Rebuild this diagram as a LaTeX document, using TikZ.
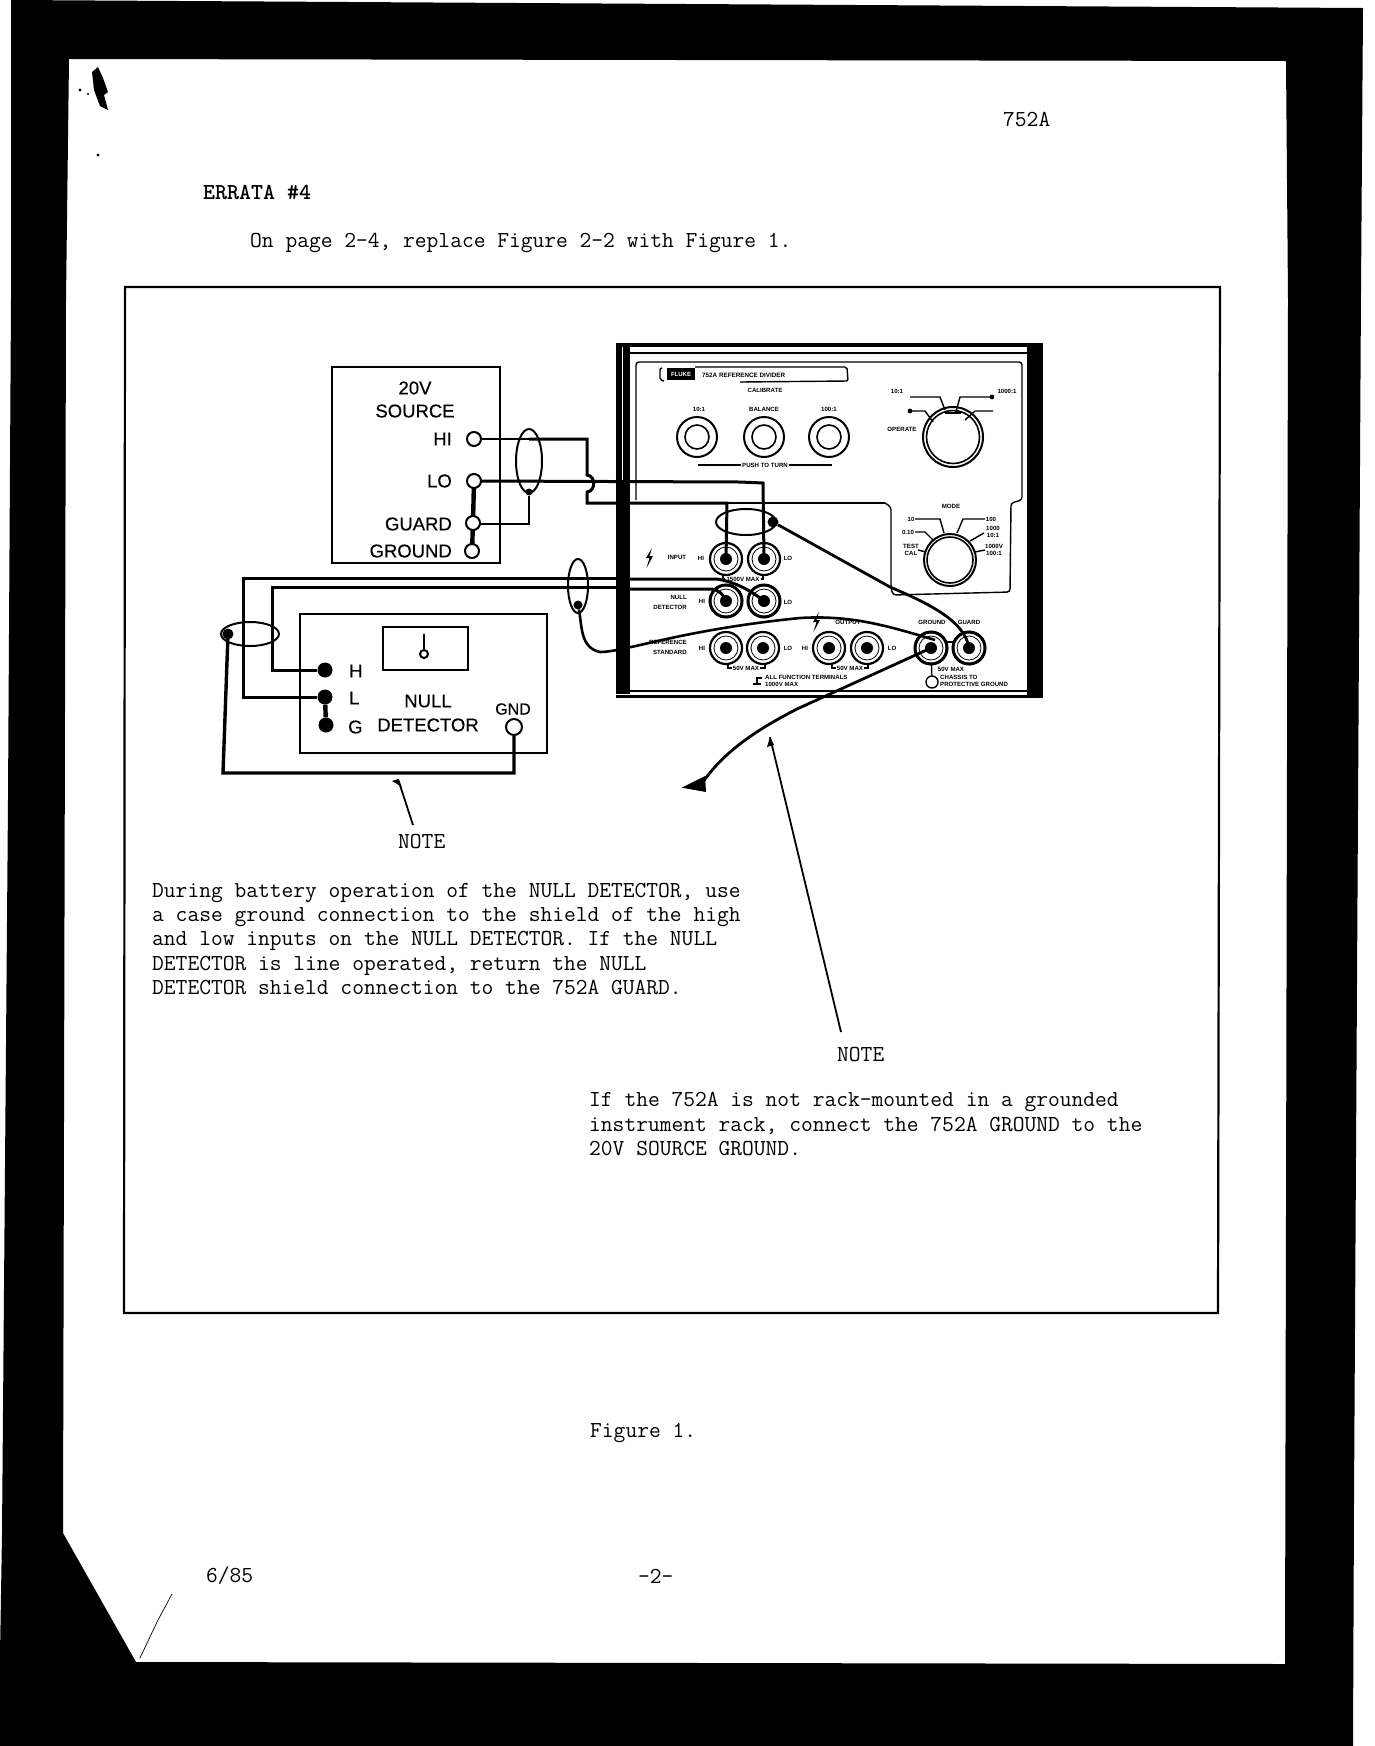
\documentclass[tikz,border=0pt]{standalone}
\usepackage{fontspec}
\setmainfont{Liberation Sans}
\usetikzlibrary{shapes.geometric,calc}
\newfontfamily\labfont[FakeBold=0.35]{Liberation Sans}
\tikzset{
  typ/.style={inner sep=0,anchor=west,font=\ttfamily\fontsize{22.85}{24.4}\selectfont,align=left},
  typb/.style={typ,font=\ttfamily\bfseries\fontsize{22.85}{24.4}\selectfont},
  lab/.style={inner sep=0,font=\labfont\fontsize{18.5}{20}\selectfont},
  labs/.style={inner sep=0,font=\labfont\fontsize{18.5}{20}\selectfont},
  tiny/.style={inner sep=0,font=\bfseries\fontsize{6.1}{7.2}\selectfont,align=center},
  boxline/.style={draw=black,line width=2.4pt,fill=none},
  wire/.style={draw=black,line width=3pt,line join=miter},
  thin wire/.style={draw=black,line width=2pt},
  heavy wire/.style={draw=black,line width=4.4pt},
  pan/.style={draw=black,line width=1.4pt},
  openterm/.style={circle,draw=black,line width=2pt,fill=white,inner sep=0,minimum size=14pt},
  solidterm/.style={circle,fill=black,inner sep=0,minimum size=15pt},
  blob/.style={circle,fill=black,inner sep=0,minimum size=9pt},
  shield/.style={ellipse,draw=black,line width=2pt,inner sep=0},
  jackring/.style={circle,draw=black,line width=2.2pt,fill=white,inner sep=0,minimum size=32pt},
  knob/.style={circle,draw=black,line width=1.6pt,inner sep=0},
  notearrow/.style={draw=black,line width=1.8pt},
}
\newcommand{\jack}[3]{%
  \node[jackring] (#1) at (#2,#3) {};
  \fill (#1.center) circle (6);
  \draw[line width=.8pt] (#1.center) circle (12);
}
\newcommand{\bolt}[2]{%
  \fill (#1,#2) ++(3,-10) -- ++(-6,10) -- ++(3.5,0) -- ++(-3,10) -- ++(6.5,-12) -- ++(-3.5,0) -- cycle;
}
\begin{document}
\begin{tikzpicture}[x=1pt,y=-1pt]
\useasboundingbox (0,0) rectangle (1374,1746);
\fill[white] (0,0) rectangle (1374,1746);
% scan surround
\fill[black,even odd rule]
  (11,0) -- (1363,8) -- (1361,290) -- (1354,1500) -- (1353,1746) -- (0,1746) -- (0,1655) -- (2,1535) -- (8,800) -- (11,300) -- cycle
  (69,59) -- (1286,61) -- (1288,300) -- (1285,1664) -- (136,1662) -- (63,1533) -- (66,300) -- cycle;
% scan marks
\fill (98,67) -- (103,78) -- (108,92) -- (104,95) -- (108,110) -- (100,106) -- (94,90) -- (92,72) -- cycle;
\fill (80,90) circle (1.6) (88,94) circle (1.2) (98,155) circle (1.6);
\draw[line width=.7pt] (140,1658) -- (158,1620) -- (172,1594);

% header texts
\node[typ] (rev) at (1003,119) {752A};
\node[typb] (errata) at (203,193) {ERRATA \#4};
\node[typ] (intro) at (250,243) {On page 2-4, replace Figure 2-2 with Figure 1.};
\node[typ] (fig) at (590,1433) {Figure 1.};
\node[typ] (date) at (206,1575) {6/85};
\node[typ] (pg) at (638,1576) {-2-};

% figure frame
\draw[black,line width=2.2pt] (125,287) -- (1220,287) -- (1218,1313) -- (124,1313) -- cycle;

% 752A panel body
\fill (616,344) rectangle (630,694);
\fill (1027,344) rectangle (1043,696);
\draw[white,line width=1pt] (622.5,346) -- (622.5,480);
\fill (616,343) rectangle (1043,346.5);
\fill (630,352) rectangle (1027,353.5);
\fill (616,690) rectangle (1043,692);
\fill (616,695) rectangle (1043,698);
\draw[pan,rounded corners=3pt] (636,500) -- (636,362) -- (1022,362) -- (1022,500) -- (1011,503) -- (1010,592) -- (893,595) -- (891,588) -- (891,507) -- (885,503);
\draw[draw=black,line width=2.4pt] (727,503) -- (885,503);

% logo line
\draw[pan,rounded corners=2pt] (662,368) -- (660,368) -- (660,380) -- (664,381);
\draw[pan,rounded corners=2pt] (695,367) -- (847,367) -- (848,381) -- (740,382);
\node[fill=black,text=white,inner sep=0,minimum width=28pt,minimum height=12pt,font=\bfseries\fontsize{6}{7}\selectfont] (logo) at (681,374) {FLUKE};
\node[tiny,anchor=west,font=\bfseries\fontsize{6.3}{8}\selectfont] (ptitle) at (702,375) {752A REFERENCE DIVIDER};
\node[tiny] (pcal) at (765,390) {CALIBRATE};
\node[tiny] (pk1) at (699,409) {10:1};
\node[tiny] (pk2) at (764,409) {BALANCE};
\node[tiny] (pk3) at (829,409) {100:1};
\foreach \n/\x in {k1/697,k2/764,k3/829}{
  \node[knob,line width=2pt,minimum size=40pt] (\n) at (\x,437) {};
  \node[knob,minimum size=24pt] (\n i) at (\x,437) {};
}
\node[tiny,fill=white,inner xsep=1pt] (ppush) at (765,465) {PUSH TO TURN};
\coordinate (pushl) at (698,465);
\coordinate (pushr) at (832,465);
\draw[pan] (pushl) -- (ppush.west) (ppush.east) -- (pushr);

% operate knob
\node[knob,line width=2pt,minimum size=60pt] (op) at (953,437) {};
\node[knob,minimum size=53pt] (opi) at (953,437) {};
\draw[line width=2pt] (945,413) -- (961,413);
\node[tiny] (po1) at (897,391) {10:1};
\node[tiny] (po2) at (1007,391) {1000:1};
\node[tiny] (po3) at (902,429) {OPERATE};
\draw[pan] (910,397) -- (940,397) -- (945,410);
\draw[pan] (992,397) -- (960,397) -- (956,412);
\draw[pan] (910,411) -- (925,411) -- (933,422);
\draw[pan] (993,411) -- (975,411) -- (965,420);
\fill (992,397) circle (2.4) (910,411) circle (2.4);

% mode knob
\node[knob,line width=2pt,minimum size=52pt] (mode) at (950,560) {};
\node[knob,minimum size=46pt] (modei) at (950,560) {};
\node[tiny] (pm0) at (951,506) {MODE};
\node[tiny] (pm1) at (911,519) {10};
\node[tiny] (pm2) at (991,519) {100};
\node[tiny] (pm3) at (908,532) {0.10};
\node[tiny] (pm4) at (993,532) {1000\\10:1};
\node[tiny] (pm5) at (911,550) {TEST\\CAL};
\node[tiny] (pm6) at (994,550) {1000V\\100:1};
\draw[pan] (915,519) -- (940,519) -- (944,533);
\draw[pan] (985,519) -- (963,519) -- (957,533);
\draw[pan] (915,532) -- (925,532) -- (933,540);
\draw[pan] (984,533) -- (970,541);
\draw[pan] (918,550) -- (926,552);
\draw[pan] (985,550) -- (975,552);

% jacks and panel text
\jack{inhi}{726}{559}
\jack{inlo}{764}{559}
\jack{ndhi}{726}{601}
\jack{ndlo}{764}{601}
\jack{rshi}{726}{648}
\jack{rslo}{763}{648}
\jack{outhi}{829}{648}
\jack{outlo}{867}{648}
\jack{gnd}{931}{648}
\jack{grd}{969}{648}
\foreach \n in {ndhi,ndlo,gnd,grd}{\draw[line width=3pt] (\n) circle (16);}
\bolt{649}{558}
\bolt{816}{622}
\node[tiny] (pt1) at (677,557) {INPUT};
\node[tiny] at (701,558) {HI};
\node[tiny] at (788,558) {LO};
\node[tiny,fill=white,inner xsep=1pt] (pmax) at (743,579) {1500V MAX};
\node[tiny,anchor=east] at (687,597) {NULL};
\node[tiny,anchor=east] at (687,607) {DETECTOR};
\node[tiny] at (702,601) {HI};
\node[tiny] at (788,602) {LO};
\node[tiny,anchor=east] at (687,642) {REFERENCE};
\node[tiny,anchor=east] at (687,652) {STANDARD};
\node[tiny] at (702,648) {HI};
\node[tiny] at (788,648) {LO};
\node[tiny] at (805,648) {HI};
\node[tiny] at (892,648) {LO};
\node[tiny] at (848,622) {OUTPUT};
\node[tiny] at (932,622) {GROUND};
\node[tiny] at (969,622) {GUARD};
\node[tiny,fill=white,inner xsep=1pt] (b1) at (746,668) {50V MAX};
\node[tiny,fill=white,inner xsep=1pt] (b2) at (850,668) {50V MAX};
\node[tiny,fill=white,inner xsep=1pt] (b3) at (951,669) {50V MAX};
\draw[pan] (728,665) -- (728,668) -- (b1.west) (b1.east) -- (765,668) -- (765,665);
\draw[pan] (832,665) -- (832,668) -- (b2.west) (b2.east) -- (868,668) -- (868,665);
\draw[pan] (723,575) -- (723,579) -- (pmax.west) (pmax.east) -- (763,579) -- (763,575);
\node[tiny,anchor=west,align=left] at (765,681) {ALL FUNCTION TERMINALS\\1000V MAX};
\draw[pan] (762,678) -- (757,678) -- (757,685) (753,684) -- (761,684);
\node[circle,draw=black,line width=1.4pt,inner sep=0,minimum size=12pt] (chs) at (932,682) {};
\draw[pan] (gnd) -- (chs);
\node[tiny,anchor=west,align=left] at (940,681) {CHASSIS TO\\PROTECTIVE GROUND};

% 20V source
\node[draw=black,line width=2.4pt,inner sep=0,minimum width=168pt,minimum height=196pt] (src) at (416,465) {};
\node[lab] (s1) at (415,388) {20V};
\node[lab] (s2) at (415,411) {SOURCE};
\node[lab,anchor=east] (s3) at (452,439) {HI};
\node[lab,anchor=east] (s4) at (452,481) {LO};
\node[lab,anchor=east] (s5) at (452,524) {GUARD};
\node[lab,anchor=east] (s6) at (452,551) {GROUND};
\coordinate (hop1) at (587,475);
\coordinate (hop2) at (587,492);
\coordinate (hicorner) at (587,439);
\coordinate (hirun) at (587,503);
\coordinate (hishield) at (529,439);
\node[shield,minimum width=26pt,minimum height=64pt] (sh1) at (529,461) {};
\node[circle,fill=black,inner sep=0,minimum size=7pt] (sh1b) at (529,492) {};
\draw[thin wire] (sh1b) -- (529,524) -- (476,524);
\draw[wire] (481,481) -- (740,482) -- (763,483) -- (inlo.center);
\draw[thin wire] (481,439) -- (hishield);
\draw[wire] (hishield) -- (hicorner) -- (hop1) .. controls (596,476) and (596,491) .. (hop2) -- (hirun) -- (727,503) -- (inhi.center);
\draw[heavy wire] (474,481) -- (473,523) -- (472,551);
\node[openterm] (hi) at (474,439) {};
\node[openterm] (lo) at (474,481) {};
\node[openterm] (guard) at (473,523) {};
\node[openterm] (ground) at (472,551) {};

% null detector
\node[draw=black,line width=2.4pt,inner sep=0,minimum width=247pt,minimum height=139pt] (nd) at (423.5,683.5) {};
\node[draw=black,line width=2.4pt,inner sep=0,minimum width=85pt,minimum height=43pt] (win) at (425.5,648.5) {};
\node[circle,draw=black,line width=2pt,inner sep=0,minimum size=8pt] (needle) at (424,654) {};
\coordinate (needletop) at (424,634);
\draw[line width=1.8pt] (needle) -- (needletop);
\node[labs,anchor=west] (nh) at (349,671) {H};
\node[labs,anchor=west] (nl) at (349,698) {L};
\node[labs,anchor=west] (ng) at (348,727) {G};
\node[labs] (n1) at (428,701) {NULL};
\node[labs] (n2) at (428,725) {DETECTOR};
\node[inner sep=0,font=\labfont\fontsize{16}{18}\selectfont] (n3) at (513,709) {GND};
\node[solidterm] (th) at (325,670) {};
\node[solidterm] (tl) at (325,697) {};
\node[solidterm] (tg) at (326,725) {};
\node[openterm,minimum size=16pt] (tgnd) at (514,727) {};
\draw[heavy wire] (tl) -- (tg);
\node[shield,minimum width=20pt,minimum height=54pt] (sh3) at (578,586) {};
\node[blob] (sh3b) at (578,605) {};
\node[shield,minimum width=58pt,minimum height=24pt] (sh2) at (250,634) {};
\node[blob,minimum size=11pt] (sh2b) at (228,634) {};
\draw[wire] (th) -- (272,670) -- (272,587) -- (616,587);
\draw[wire] (tl) -- (243,697) -- (243,578) -- (616,578);
\draw[wire] (630,579) -- (717,579) .. controls (735,582) and (750,590) .. (ndlo.center);
\draw[wire] (630,589) -- (712,589) .. controls (719,590) and (724,595) .. (ndhi.center);
\draw[heavy wire,line width=3.4pt] (tgnd.south) -- (514,773) -- (223,773) -- (sh2b.center);

% shield lead to reference rail and ground
\coordinate (railB) at (800,618);
\draw[draw=black,line width=2.6pt] (sh3b) .. controls (582,625) and (580,648) .. (600,652) .. controls (625,652) and (680,630) .. (railB) .. controls (850,615) and (885,625) .. (935,640);
\draw[draw=black,line width=2.6pt] (945,642) -- (955,642);

% guard shield
\node[shield,minimum width=60pt,minimum height=26pt] (sh4) at (746,522) {};
\node[blob,minimum size=11pt] (sh4b) at (773,522) {};
\draw[draw=black,line width=2.8pt] (sh4b) -- (890,587) .. controls (925,602) and (965,620) .. (grd.center);

% ground note arrow
\node[inner sep=0] (tipg) at (681,788) {};
\draw[draw=black,line width=2.8pt] (gnd.center) -- (797,709) .. controls (760,728) and (725,750) .. (703,782);
\fill (tipg) -- (705,776) -- (706,792) -- cycle;

% notes
\node[typ] (note1) at (398,842) {NOTE};
\node[typ] (note2) at (837,1055) {NOTE};
\coordinate (note1t) at (413,825);
\coordinate (note1h) at (398,779);
\coordinate (note2t) at (841,1032);
\coordinate (note2h) at (770,737);
\draw[notearrow] (note1t) -- (note1h);
\fill (note1h) -- (392,781) -- (402,787) -- cycle;
\draw[notearrow] (note2t) -- (note2h);
\fill (note2h) -- (767,747) -- (774,745) -- cycle;
\node[typ] (txt1) at (152,939) {During battery operation of the NULL DETECTOR, use\\a case ground connection to the shield of the high\\and low inputs on the NULL DETECTOR. If the NULL\\DETECTOR is line operated, return the NULL\\DETECTOR shield connection to the 752A GUARD.};
\node[typ] (txt2) at (589,1124) {If the 752A is not rack-mounted in a grounded\\instrument rack, connect the 752A GROUND to the\\20V SOURCE GROUND.};
\end{tikzpicture}
\end{document}
